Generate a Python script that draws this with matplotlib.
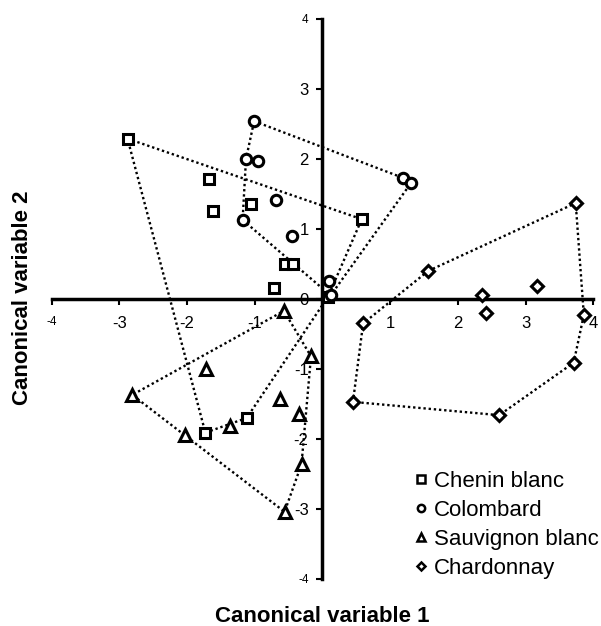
import matplotlib
matplotlib.use('Agg')
import matplotlib.pyplot as plt
from matplotlib.lines import Line2D

plt.rcParams['font.family'] = ['Liberation Sans', 'DejaVu Sans']

# canonical scores
chenin_x = [-2.88, -1.68, -1.62, -1.05, 0.58, -0.55, -0.44, -0.72, 0.08, -1.12, -1.73]
chenin_y = [2.29, 1.71, 1.26, 1.36, 1.14, 0.50, 0.50, 0.16, 0.03, -1.70, -1.91]
chenin_hull = [0, 4, 8, 9, 10, 0]

colombard_x = [-1.01, -1.13, -0.96, -0.69, -1.18, -0.45, 0.09, 0.12, 1.19, 1.31]
colombard_y = [2.54, 2.00, 1.97, 1.42, 1.13, 0.90, 0.25, 0.05, 1.73, 1.66]
colombard_hull = [0, 8, 9, 7, 4, 1, 0]

sauvignon_x = [-0.57, -0.17, -1.72, -2.81, -0.63, -0.34, -1.37, -2.03, -0.31, -0.56]
sauvignon_y = [-0.17, -0.82, -1.00, -1.37, -1.43, -1.64, -1.82, -1.95, -2.36, -3.04]
sauvignon_hull = [0, 1, 8, 9, 7, 3, 0]

chardonnay_x = [3.74, 1.56, 3.17, 2.36, 2.42, 3.86, 0.60, 3.71, 0.45, 2.61]
chardonnay_y = [1.37, 0.40, 0.18, 0.06, -0.20, -0.23, -0.35, -0.91, -1.47, -1.66]
chardonnay_hull = [1, 0, 5, 7, 9, 8, 6, 1]

groups = [
    ('Chenin blanc', chenin_x, chenin_y, chenin_hull, 's', 7.5),
    ('Colombard', colombard_x, colombard_y, colombard_hull, 'o', 7.5),
    ('Sauvignon blanc', sauvignon_x, sauvignon_y, sauvignon_hull, '^', 8.5),
    ('Chardonnay', chardonnay_x, chardonnay_y, chardonnay_hull, 'D', 6.5),
]

fig = plt.figure(figsize=(6.01, 6.26), dpi=100)
ax = fig.add_axes([0.086, 0.0751, 0.9012, 0.8946])

for name, xs, ys, hull, mk, ms in groups:
    # dotted outline around each cultivar
    ax.plot([xs[i] for i in hull], [ys[i] for i in hull], color='black',
            linestyle=(0, (1, 1.2)), linewidth=1.7, zorder=2)
    ax.plot(xs, ys, linestyle='none', marker=mk, markersize=ms,
            markerfacecolor='white', markeredgecolor='black',
            markeredgewidth=2.2, zorder=3)

ax.set_xlim(-4, 4)
ax.set_ylim(-4, 4)

# axes crossing at the origin
for side in ['top', 'right']:
    ax.spines[side].set_visible(False)
ax.spines['left'].set_position('zero')
ax.spines['bottom'].set_position('zero')
ax.spines['left'].set_linewidth(2.5)
ax.spines['bottom'].set_linewidth(2.5)
ax.spines['left'].set_zorder(1)
ax.spines['bottom'].set_zorder(1)

xt = [-4, -3, -2, -1, 1, 2, 3, 4]
yt = [-4, -3, -2, -1, 0, 1, 2, 3, 4]
ax.set_xticks(xt)
ax.set_xticklabels([str(v) for v in xt])
ax.set_yticks(yt)
ax.set_yticklabels([str(v) for v in yt])
ax.tick_params(axis='x', direction='out', length=4, width=1.5, pad=8, labelsize=12)
ax.tick_params(axis='y', direction='out', length=4, width=1.5, pad=6, labelsize=12)
ax.get_xticklabels()[0].set_fontsize(8.5)
ax.get_yticklabels()[0].set_fontsize(8.5)
ax.get_yticklabels()[-1].set_fontsize(8.5)

fig.text(322 / 601, 1 - 622 / 626, 'Canonical variable 1', ha='center',
         va='baseline', fontsize=16, fontweight='bold')
fig.text(23 / 601, 1 - 298 / 626, 'Canonical variable 2', ha='center',
         va='center', rotation=90, fontsize=16, fontweight='bold')

handles = [Line2D([], [], linestyle='none', marker=mk, markersize=ms * 0.7,
                  markerfacecolor='white', markeredgecolor='black',
                  markeredgewidth=1.8, label=name)
           for name, xs, ys, hull, mk, ms in groups]
ax.legend(handles=handles, loc='upper left',
          bbox_to_anchor=(414 / 601, 1 - 471 / 626),
          bbox_transform=fig.transFigure, frameon=False, fontsize=16,
          handlelength=0.6, handletextpad=0.3, labelspacing=0.36,
          borderpad=0, borderaxespad=0)

fig.savefig('out.png', dpi=100)
